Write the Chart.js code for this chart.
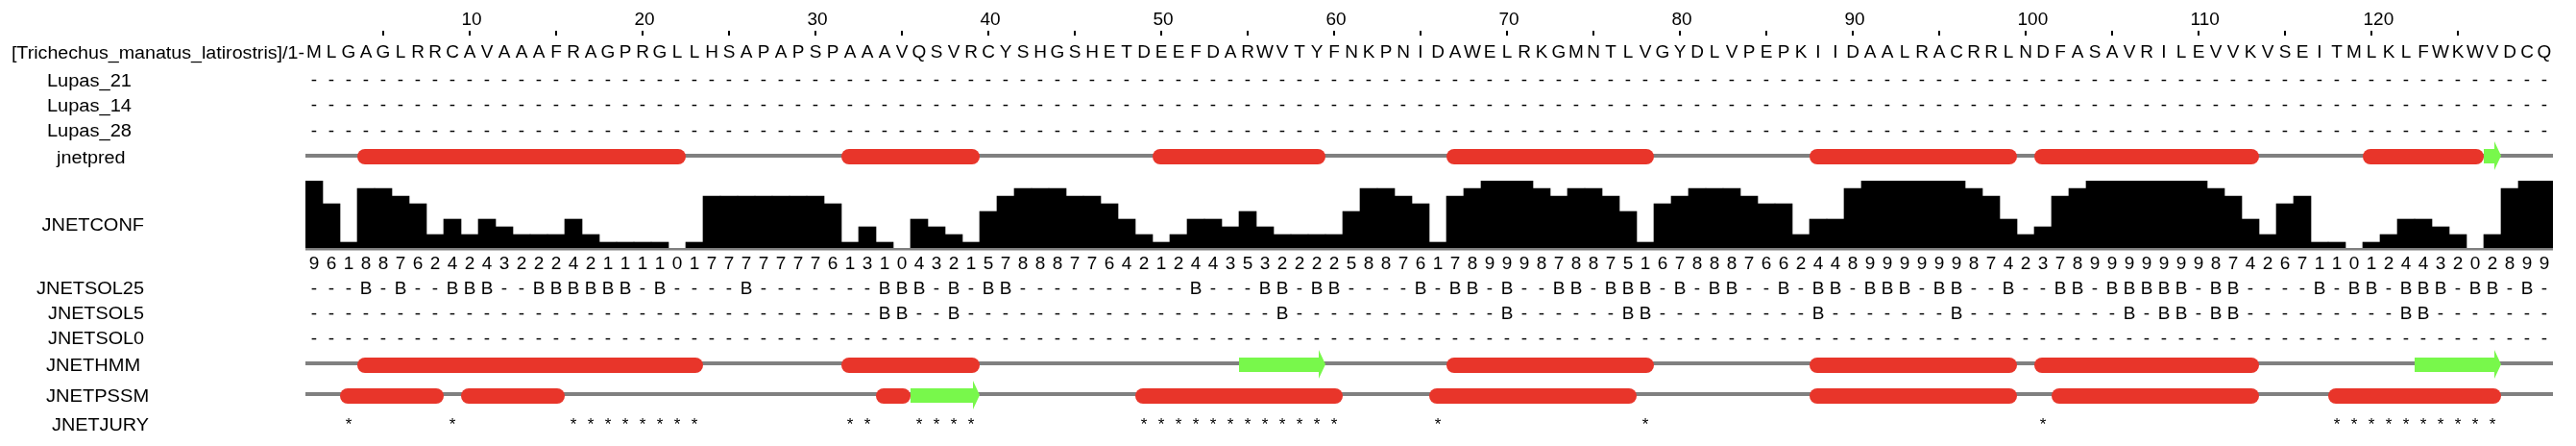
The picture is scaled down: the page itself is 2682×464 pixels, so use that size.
<!DOCTYPE html>
<html><head><meta charset="utf-8">
<script src="https://cdn.jsdelivr.net/npm/chart.js@4/dist/chart.umd.min.js"></script>
<style>html,body{margin:0;padding:0;background:#fff;overflow:hidden}canvas{display:block}</style>
</head><body>
<canvas id="c" width="2682" height="464"></canvas>
<script>
// ---------------- DATA ----------------
const sequenceName = "[Trichechus_manatus_latirostris]/1-";
const sequence = "MLGAGLRRCA" + "VAAAFRAGPR" + "GLLHSAPAPS" + "PAAAVQSVRC" + "YSHGSHETDE" +
                 "EFDARWVTYF" + "NKPNIDAWEL" + "RKGMNTLVGY" + "DLVPEPKIID" + "AALRACRRLN" +
                 "DFASAVRILE" + "VVKVSEITML" + "KLFWKWVDCQ";
const residues = sequence.split("");
const residueNumbers = residues.map((_, i) => String(i + 1));
const numberedTicks = [10, 20, 30, 40, 50, 60, 70, 80, 90, 100, 110, 120];
const minorTicks = [5, 15, 25, 35, 45, 55, 65, 75, 85, 95, 105, 115, 125];

const trackLabels = ["Lupas_21", "Lupas_14", "Lupas_28", "jnetpred", "JNETCONF",
  "JNETSOL25", "JNETSOL5", "JNETSOL0", "JNETHMM", "JNETPSSM", "JNETJURY"];

// coiled-coil hits (none) -> all '-'
const lupas21Hits = [];
const lupas14Hits = [];
const lupas28Hits = [];

// JNETCONF per residue
const jnetConf = [9,6,1,8,8,7,6,2,4,2, 4,3,2,2,2,4,2,1,1,1, 1,0,1,7,7,7,7,7,7,7,
  6,1,3,1,0,4,3,2,1,5, 7,8,8,8,7,7,6,4,2,1, 2,4,4,3,5,3,2,2,2,2,
  5,8,8,7,6,1,7,8,9,9, 9,8,7,8,8,7,5,1,6,7, 8,8,8,7,6,6,2,4,4,8,
  9,9,9,9,9,9,8,7,4,2, 3,7,8,9,9,9,9,9,9,9, 8,7,4,2,6,7,1,1,0,1,
  2,4,4,3,2,0,2,8,9,9];

// buried residues ('B'); all others '-'
const sol25Buried = [4,6,9,10,11,14,15,16,17,18,19,21,26,34,35,36,38,40,41,52,56,57,59,60,
  65,67,68,70,73,74,76,77,78,80,82,83,86,88,89,91,92,93,95,96,99,102,103,105,106,107,
  108,109,111,112,117,119,120,122,123,124,126,127,129];
const sol5Buried = [34,35,38,57,70,77,78,88,96,106,108,109,111,112,122,123];
const sol0Buried = [];

// secondary structure segments [start, end] (1-based residues)
const jnetpredHelices = [[4,22],[32,39],[50,59],[67,78],[88,99],[101,113],[120,126]];
const jnetpredStrands = [[127,127]];
const hmmHelices = [[4,23],[32,39],[67,78],[88,99],[101,113]];
const hmmStrands = [[55,59],[123,127]];
const pssmHelices = [[3,8],[10,15],[34,35],[49,60],[66,77],[88,99],[102,113],[118,127]];
const pssmStrands = [[36,39]];

const juryPositions = [3,9,16,17,18,19,20,21,22,23,32,33,36,37,38,39,
  49,50,51,52,53,54,55,56,57,58,59,60,66,78,101,118,119,120,121,122,123,124,125,126,127];

// ---------------- STYLE ----------------
const FONT = '"Liberation Sans", Arial, Helvetica, sans-serif';
const RED = '#e8352a', GREEN = '#78f84b', GREY = '#808080';
const labelBoxes = { // [left, right, baseline]
  "Lupas_21": [50, 137, 90], "Lupas_14": [50, 137, 116], "Lupas_28": [50, 137, 142],
  "jnetpred": [58, 129.5, 170], "JNETCONF": [43.5, 150, 240], "JNETSOL25": [38, 150, 306],
  "JNETSOL5": [50, 150, 332], "JNETSOL0": [50, 150, 358], "JNETHMM": [48, 145, 386],
  "JNETPSSM": [48, 154, 418], "JNETJURY": [54, 155, 448]
};

function fitText(ctx, text, l, r, y) {
  ctx.save();
  ctx.textAlign = 'left';
  const m = ctx.measureText(text);
  const ink = m.actualBoundingBoxLeft + m.actualBoundingBoxRight;
  const s = (r - l) / ink;
  ctx.translate(l + m.actualBoundingBoxLeft * s, y);
  ctx.scale(s, 1);
  ctx.fillText(text, 0, 0);
  ctx.restore();
}

const annotationPlugin = {
  id: 'jalviewAnnotations',
  afterDatasetsDraw(chart) {
    const ctx = chart.ctx, x = chart.scales.x;
    const n = residues.length;
    const w = x.getPixelForValue(1) - x.getPixelForValue(0);
    const cx = i => x.getPixelForValue(i - 1);
    const lx = i => cx(i) - w / 2;
    const rx = i => cx(i) + w / 2;
    ctx.save();
    ctx.fillStyle = '#000';

    // residue number ruler
    ctx.font = '19px ' + FONT;
    ctx.textAlign = 'left';
    numberedTicks.forEach(t => ctx.fillText(String(t), lx(t) + 0.5, 26));
    [...numberedTicks, ...minorTicks].forEach(t => ctx.fillRect(Math.round(cx(t)) - 1, 32, 2, 5));

    // sequence
    ctx.textAlign = 'center';
    residues.forEach((r, k) => ctx.fillText(r, cx(k + 1), 60));

    // dash / B rows
    const drawRow = (hits, ch, baseline) => {
      for (let i = 1; i <= n; i++) ctx.fillText(hits.includes(i) ? ch : '-', cx(i), baseline);
    };
    drawRow(lupas21Hits, 'C', 89);
    drawRow(lupas14Hits, 'C', 115);
    drawRow(lupas28Hits, 'C', 141.5);
    drawRow(sol25Buried, 'B', 306);
    drawRow(sol5Buried, 'B', 332);
    drawRow(sol0Buried, 'B', 357.5);

    // confidence digits
    jnetConf.forEach((v, k) => ctx.fillText(String(v), cx(k + 1), 280));

    // conf baseline
    ctx.fillStyle = GREY;
    ctx.fillRect(lx(1), 258, rx(n) - lx(1), 2.5);

    // secondary structure tracks
    const drawTrack = (top, lineY, helices, strands) => {
      ctx.fillStyle = GREY;
      ctx.fillRect(lx(1), lineY, rx(n) - lx(1), 4);
      ctx.fillStyle = RED;
      helices.forEach(([a, b]) => {
        ctx.beginPath();
        ctx.roundRect(lx(a), top, rx(b) - lx(a), 16, 8);
        ctx.fill();
      });
      ctx.fillStyle = GREEN;
      strands.forEach(([a, b]) => {
        const x0 = lx(a), x1 = rx(b), hx = x1 - 7;
        ctx.fillRect(x0, top, hx - x0, 15);
        ctx.beginPath();
        ctx.moveTo(hx, top - 8);
        ctx.lineTo(x1, top + 7);
        ctx.lineTo(hx, top + 22);
        ctx.closePath();
        ctx.fill();
      });
    };
    drawTrack(155, 160, jnetpredHelices, jnetpredStrands);
    drawTrack(372, 376, hmmHelices, hmmStrands);
    drawTrack(404, 408, pssmHelices, pssmStrands);

    // jury stars
    ctx.fillStyle = '#000';
    ctx.font = '17px ' + FONT;
    ctx.textAlign = 'center';
    juryPositions.forEach(p => ctx.fillText('*', cx(p), 447));

    // labels
    ctx.font = '18px ' + FONT;
    fitText(ctx, sequenceName, 13, 317, 60.5);
    trackLabels.forEach(t => {
      const [l, r, y] = labelBoxes[t];
      fitText(ctx, t, l, r, y);
    });
    ctx.restore();
  }
};

new Chart(document.getElementById('c'), {
  type: 'bar',
  data: {
    labels: residueNumbers,
    datasets: [{
      label: 'JNETCONF',
      data: jnetConf,
      backgroundColor: '#000',
      borderWidth: 0,
      barPercentage: 1,
      categoryPercentage: 1
    }]
  },
  options: {
    responsive: false,
    animation: false,
    devicePixelRatio: 1,
    layout: { padding: { left: 318, right: 24, top: 188, bottom: 204 } },
    scales: {
      x: { display: false },
      y: { display: false, min: 0, max: 9 }
    },
    plugins: { legend: { display: false }, tooltip: { enabled: false } }
  },
  plugins: [annotationPlugin]
});
</script>
</body></html>
